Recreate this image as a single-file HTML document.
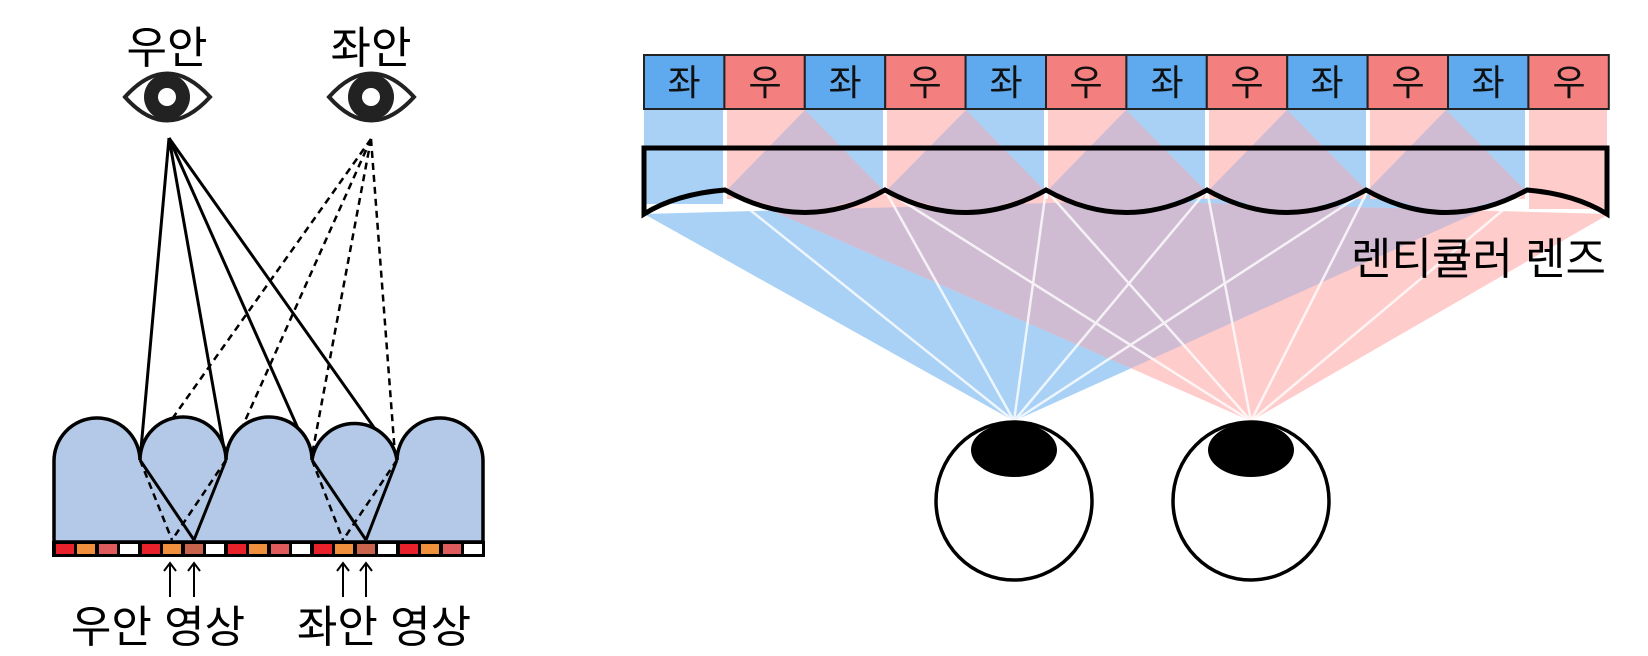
<!DOCTYPE html>
<html><head><meta charset="utf-8"><style>
html,body{margin:0;padding:0;background:#fff;}
svg{display:block;}
text{font-family:"Liberation Sans","Noto Sans CJK KR",sans-serif;}
</style></head><body>
<svg width="1648" height="656" viewBox="0 0 1648 656" xmlns="http://www.w3.org/2000/svg">
<defs>
<clipPath id="pinkfan"><polygon points="1251,421 725,190 1609,214"/></clipPath>
</defs>
<!-- LEFT DIAGRAM -->
<text x="167" y="63" font-size="44" text-anchor="middle">우안</text>
<text x="371" y="63" font-size="44" text-anchor="middle">좌안</text>
<g stroke="#222" stroke-width="4" fill="#fff">
<path d="M125,97 Q167,50 210,97 Q167,144 125,97 Z"/>
<path d="M329,97 Q371,50 414,97 Q371,144 329,97 Z"/>
</g>
<circle cx="167" cy="97" r="23" fill="#222"/><circle cx="167" cy="97" r="9" fill="#fff"/>
<circle cx="371" cy="97" r="23" fill="#222"/><circle cx="371" cy="97" r="9" fill="#fff"/>
<g stroke="#000" stroke-width="3">
<line x1="169" y1="138" x2="140" y2="460"/>
<line x1="169" y1="138" x2="226" y2="460"/>
<line x1="169" y1="138" x2="312" y2="460"/>
<line x1="169" y1="138" x2="397" y2="460"/>
</g>
<g stroke="#000" stroke-width="2.5" stroke-dasharray="7,5">
<line x1="371" y1="139" x2="150" y2="450"/>
<line x1="371" y1="139" x2="232" y2="450"/>
<line x1="371" y1="139" x2="312" y2="455"/>
<line x1="371" y1="139" x2="395" y2="455"/>
</g>
<path d="M54,542 L54,462 A43,43 0 0 1 140,460 A43,43 0 0 1 226,460 A43,43 0 0 1 312,460 A43,43 0 0 1 397,460 A43,43 0 0 1 483,462 L483,542 Z" fill="#b4c9e7" stroke="#000" stroke-width="3.5"/>
<g stroke="#000" stroke-width="3">
<line x1="140" y1="460" x2="194" y2="540"/>
<line x1="226" y1="460" x2="194" y2="540"/>
<line x1="312" y1="460" x2="366" y2="540"/>
<line x1="397" y1="460" x2="366" y2="540"/>
</g>
<g stroke="#000" stroke-width="2.5" stroke-dasharray="7,5">
<line x1="140" y1="460" x2="172" y2="540"/>
<line x1="226" y1="460" x2="172" y2="540"/>
<line x1="312" y1="460" x2="343" y2="540"/>
<line x1="397" y1="460" x2="343" y2="540"/>
</g>
<rect x="52" y="541" width="433" height="16" fill="#000"/>
<g>
<rect x="56" y="544" width="18" height="10" fill="#e8212b"/><rect x="77" y="544" width="18" height="10" fill="#f0903c"/><rect x="99" y="544" width="18" height="10" fill="#e05c5c"/><rect x="120" y="544" width="18" height="10" fill="#fff"/>
<rect x="142" y="544" width="18" height="10" fill="#e8212b"/><rect x="163" y="544" width="18" height="10" fill="#f0903c"/><rect x="185" y="544" width="18" height="10" fill="#c8644c"/><rect x="206" y="544" width="18" height="10" fill="#fff"/>
<rect x="228" y="544" width="18" height="10" fill="#e8212b"/><rect x="249" y="544" width="18" height="10" fill="#f0903c"/><rect x="271" y="544" width="18" height="10" fill="#e05c5c"/><rect x="292" y="544" width="18" height="10" fill="#fff"/>
<rect x="314" y="544" width="18" height="10" fill="#e8212b"/><rect x="335" y="544" width="18" height="10" fill="#f0903c"/><rect x="357" y="544" width="18" height="10" fill="#c8644c"/><rect x="378" y="544" width="18" height="10" fill="#fff"/>
<rect x="400" y="544" width="18" height="10" fill="#e8212b"/><rect x="421" y="544" width="18" height="10" fill="#f0903c"/><rect x="443" y="544" width="18" height="10" fill="#e05c5c"/><rect x="464" y="544" width="18" height="10" fill="#fff"/>
</g>
<g stroke="#000" stroke-width="2" fill="none">
<line x1="170" y1="597" x2="170" y2="563"/><polyline points="164,571 170,563 176,571"/>
<line x1="194" y1="597" x2="194" y2="563"/><polyline points="188,571 194,563 200,571"/>
<line x1="343" y1="597" x2="343" y2="563"/><polyline points="337,571 343,563 349,571"/>
<line x1="366" y1="597" x2="366" y2="563"/><polyline points="360,571 366,563 372,571"/>
</g>
<text x="158" y="642" font-size="44" text-anchor="middle">우안 영상</text>
<text x="384" y="642" font-size="44" text-anchor="middle">좌안 영상</text>

<!-- RIGHT DIAGRAM -->
<polygon points="1014,421 644,214 1527,190" fill="#a9d1f6"/>
<polygon points="1251,421 725,190 1609,214" fill="#ffcccc"/>
<polygon points="1014,421 644,214 1527,190" fill="#d0bcd2" clip-path="url(#pinkfan)"/>
<g>
<rect x="644" y="109" width="79" height="95" fill="#a9d1f6"/>
<rect x="727" y="109" width="156" height="90" fill="#ffcccc"/>
<rect x="887" y="109" width="157" height="90" fill="#ffcccc"/>
<rect x="1048" y="109" width="157" height="90" fill="#ffcccc"/>
<rect x="1209" y="109" width="157" height="90" fill="#ffcccc"/>
<rect x="1370" y="109" width="155" height="90" fill="#ffcccc"/>
<rect x="1529" y="109" width="78" height="100" fill="#ffcccc"/>
<rect x="805" y="109" width="78" height="82" fill="#a9d1f6"/>
<rect x="966" y="109" width="78" height="82" fill="#a9d1f6"/>
<rect x="1126" y="109" width="79" height="82" fill="#a9d1f6"/>
<rect x="1287" y="109" width="79" height="82" fill="#a9d1f6"/>
<rect x="1446" y="109" width="79" height="82" fill="#a9d1f6"/>
</g>
<g fill="#d0bcd2">
<polygon points="805,110 725,192 885,192"/>
<polygon points="966,110 885,192 1046,192"/>
<polygon points="1126,110 1046,192 1207,192"/>
<polygon points="1287,110 1207,192 1368,192"/>
<polygon points="1446,110 1366,192 1527,192"/>
<polygon points="725,192 885,192 805,215"/>
<polygon points="885,192 1046,192 966,215"/>
<polygon points="1046,192 1207,192 1126,215"/>
<polygon points="1207,192 1368,192 1287,215"/>
<polygon points="1366,192 1527,192 1446,215"/>
</g>
<g stroke="#fff" stroke-width="2.5" opacity="0.8">
<line x1="1014" y1="421" x2="725" y2="190"/><line x1="1014" y1="421" x2="885" y2="190"/><line x1="1014" y1="421" x2="1046" y2="190"/><line x1="1014" y1="421" x2="1207" y2="190"/><line x1="1014" y1="421" x2="1368" y2="190"/>
<line x1="1251" y1="421" x2="885" y2="190"/><line x1="1251" y1="421" x2="1046" y2="190"/><line x1="1251" y1="421" x2="1207" y2="190"/><line x1="1251" y1="421" x2="1368" y2="190"/><line x1="1251" y1="421" x2="1527" y2="190"/>
</g>
<g stroke="#222" stroke-width="2">
<rect x="644" y="55" width="80.4" height="54" fill="#5faaee"/>
<rect x="724.4" y="55" width="80.4" height="54" fill="#f47f7f"/>
<rect x="804.8" y="55" width="80.4" height="54" fill="#5faaee"/>
<rect x="885.2" y="55" width="80.4" height="54" fill="#f47f7f"/>
<rect x="965.6" y="55" width="80.4" height="54" fill="#5faaee"/>
<rect x="1046" y="55" width="80.4" height="54" fill="#f47f7f"/>
<rect x="1126.4" y="55" width="80.4" height="54" fill="#5faaee"/>
<rect x="1206.8" y="55" width="80.4" height="54" fill="#f47f7f"/>
<rect x="1287.2" y="55" width="80.4" height="54" fill="#5faaee"/>
<rect x="1367.6" y="55" width="80.4" height="54" fill="#f47f7f"/>
<rect x="1448" y="55" width="80.4" height="54" fill="#5faaee"/>
<rect x="1528.4" y="55" width="80.4" height="54" fill="#f47f7f"/>
</g>
<g font-size="36" text-anchor="middle" fill="#111">
<text x="684" y="95">좌</text><text x="765" y="95">우</text><text x="845" y="95">좌</text><text x="925" y="95">우</text>
<text x="1006" y="95">좌</text><text x="1086" y="95">우</text><text x="1167" y="95">좌</text><text x="1247" y="95">우</text>
<text x="1327" y="95">좌</text><text x="1408" y="95">우</text><text x="1488" y="95">좌</text><text x="1569" y="95">우</text>
</g>
<path d="M644,148 L1607,148 L1607,214 Q1575,194 1527,190 Q1446,235 1366,190 Q1287,235 1207,190 Q1126,235 1046,190 Q966,235 885,190 Q805,235 725,190 Q676,194 644,214 Z" fill="none" stroke="#000" stroke-width="5" stroke-linejoin="miter"/>
<text x="1606" y="274" font-size="44" text-anchor="end">렌티큘러 렌즈</text>
<ellipse cx="1014" cy="501" rx="78" ry="79" fill="#fff" stroke="#000" stroke-width="3.5"/>
<ellipse cx="1014" cy="450" rx="43" ry="27" fill="#000"/>
<ellipse cx="1251" cy="501" rx="78" ry="79" fill="#fff" stroke="#000" stroke-width="3.5"/>
<ellipse cx="1251" cy="450" rx="43" ry="27" fill="#000"/>
</svg>
</body></html>
